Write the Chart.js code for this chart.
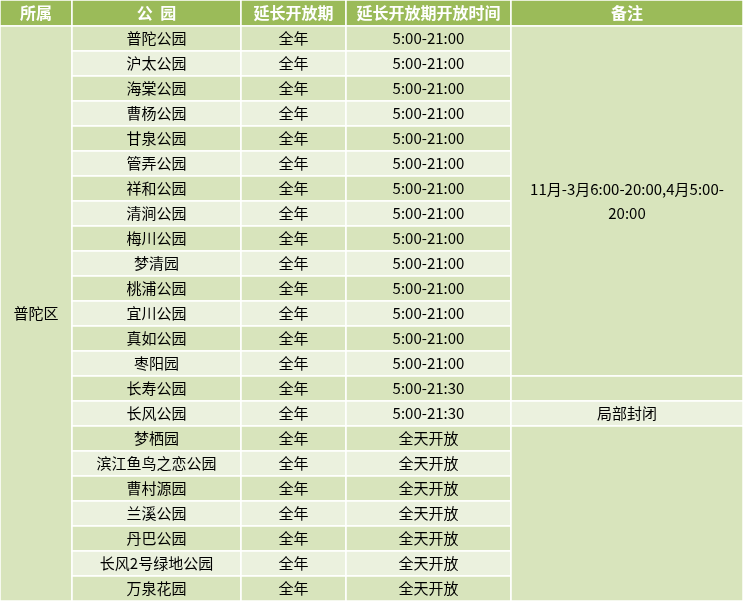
<!DOCTYPE html>
<html><head><meta charset="utf-8">
<script src="https://cdn.jsdelivr.net/npm/chart.js@4"></script>
<style>html,body{margin:0;padding:0;background:#fff}#w{width:743px;height:601px}</style>
</head><body><div id="w"><canvas id="c"></canvas></div>
<script>
const headers = ["所属","公  园","延长开放期","延长开放期开放时间","备注"];
const district = "普陀区";
const parks = ["普陀公园","沪太公园","海棠公园","曹杨公园","甘泉公园","管弄公园","祥和公园","清涧公园","梅川公园","梦清园","桃浦公园","宜川公园","真如公园","枣阳园","长寿公园","长风公园","梦栖园","滨江鱼鸟之恋公园","曹村源园","兰溪公园","丹巴公园","长风2号绿地公园","万泉花园"];
const periods = ["全年","全年","全年","全年","全年","全年","全年","全年","全年","全年","全年","全年","全年","全年","全年","全年","全年","全年","全年","全年","全年","全年","全年"];
const hours = ["5:00-21:00","5:00-21:00","5:00-21:00","5:00-21:00","5:00-21:00","5:00-21:00","5:00-21:00","5:00-21:00","5:00-21:00","5:00-21:00","5:00-21:00","5:00-21:00","5:00-21:00","5:00-21:00","5:00-21:30","5:00-21:30","全天开放","全天开放","全天开放","全天开放","全天开放","全天开放","全天开放"];
// remarks: [startRow, endRow, text lines]
const remarks = [[0,13,["11月-3月6:00-20:00,4月5:00-","20:00"]],[14,14,[]],[15,15,["局部封闭"]],[16,22,[]]];

const colX=[0,72,241,346,511,743], headH=26, rowH=25;
const DARK="#D8E4BC", LIGHT="#EBF1DE", HEAD="#9BBB59";
const tablePlugin={id:'table',afterDraw(ch){
  const c=ch.ctx,xs=ch.scales.x,ys=ch.scales.y;
  const X=v=>xs.getPixelForValue(v), Y=v=>ys.getPixelForValue(v);
  const rowTop=i=>headH+i*rowH;
  function cell(x0,x1,y0,y1,fill,lines,font,color){
    c.fillStyle=fill;c.fillRect(X(x0),Y(y0),X(x1)-X(x0),Y(y1)-Y(y0));
    c.strokeStyle="#fff";c.lineWidth=1.5;c.strokeRect(X(x0),Y(y0),X(x1)-X(x0),Y(y1)-Y(y0));
    c.fillStyle=color;c.font=font;c.textAlign="center";c.textBaseline="middle";
    const cx=(X(x0)+X(x1))/2, cy=(Y(y0)+Y(y1))/2, lh=24;
    lines.forEach((t,k)=>c.fillText(t,cx,cy+(k-(lines.length-1)/2)*lh));
  }
  c.save();
  const f="15px 'Noto Sans CJK SC'", hf="bold 16px 'Noto Sans CJK SC'";
  headers.forEach((h,i)=>cell(colX[i],colX[i+1],0,headH,HEAD,[h],hf,"#fff"));
  cell(colX[0],colX[1],headH,rowTop(parks.length),DARK,[district],f,"#000");
  parks.forEach((p,i)=>{
    const bg=i%2===0?DARK:LIGHT;
    cell(colX[1],colX[2],rowTop(i),rowTop(i+1),bg,[p],f,"#000");
    cell(colX[2],colX[3],rowTop(i),rowTop(i+1),bg,[periods[i]],f,"#000");
    cell(colX[3],colX[4],rowTop(i),rowTop(i+1),bg,[hours[i]],f,"#000");
  });
  remarks.forEach(([a,b,l])=>{const bg=(a===b&&a%2===1)?LIGHT:DARK;
    cell(colX[4],colX[5],rowTop(a),rowTop(b+1),bg,l,f,"#000");});
  c.restore();
}};
new Chart(document.getElementById('c'),{type:'scatter',
  data:{datasets:[{data:[],pointRadius:0}]},
  options:{responsive:true,maintainAspectRatio:false,animation:false,
    layout:{padding:0},
    plugins:{legend:{display:false},tooltip:{enabled:false}},
    scales:{x:{type:'linear',min:0,max:743,display:false},
            y:{type:'linear',min:0,max:601,reverse:true,display:false}}},
  plugins:[tablePlugin]});
</script></body></html>
